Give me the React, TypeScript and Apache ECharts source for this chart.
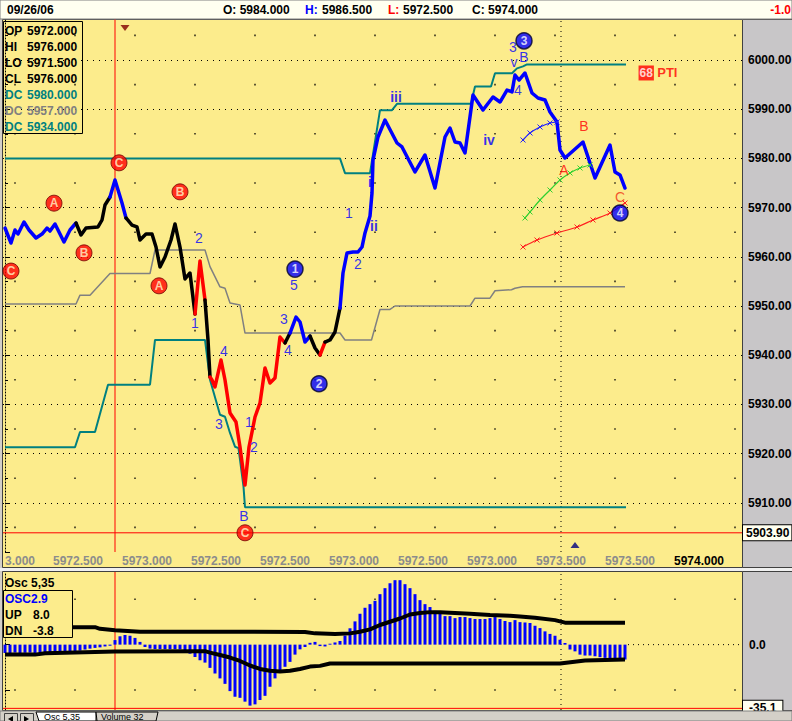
import React, { useEffect, useRef } from 'react';
import * as echarts from 'echarts';

const FONT = 'Arial, "Liberation Sans", sans-serif';
const YELLOW = '#FCEC8C';
const PANEL_GREY = '#C8C6C8';
const BLUE = '#0000FF';
const RED = '#FF0000';
const TEAL = '#008080';

// x positions are bar numbers (0 = first bar on the chart)
const xMin = -0.4;
const xMax = 147.4;
const xTickPositions = [3, 14.6, 28.4, 42.2, 56, 69.8, 83.6, 97.4, 111.2, 125, 138.8];
const xTickLabels = ['3.000', '5972.500', '5973.000', '5972.500', '5972.500', '5973.000', '5972.500', '5973.000', '5973.500', '5973.500', '5974.000'];

const pricePoints: [number, number][] = [
  [0, 5965.85], [1.2, 5962.8], [2, 5965.45], [2.6, 5964.63], [3.8, 5967.07], [4.8, 5965.45], [6.2, 5963.82],
  [7.4, 5964.63], [8.4, 5965.85], [9, 5965.24], [10, 5966.67], [10.8, 5965.04], [11.8, 5963.0], [13, 5965.45],
  [14.2, 5966.87], [15.2, 5964.43], [16.2, 5965.85], [18.6, 5966.06], [19.4, 5967.48], [20, 5970.53], [21, 5972.15],
  [22, 5975.61], [23.4, 5970.93], [24.2, 5967.89], [25.4, 5966.46], [26.4, 5966.06], [27, 5963.41], [28.2, 5964.63],
  [29.4, 5964.63], [30.2, 5961.99], [31, 5957.93], [32, 5959.96], [33.2, 5963.41], [34, 5966.67], [35, 5961.99],
  [36, 5955.49], [37, 5956.71], [38, 5948.37], [39, 5959.15], [40, 5951.22], [40.6, 5943.09], [41, 5935.57],
  [41.4, 5934.96], [42, 5933.54], [43.2, 5939.02], [44, 5934.96], [45, 5928.25], [46.2, 5926.42], [47, 5921.34],
  [48, 5913.62], [48.8, 5921.34], [50, 5927.44], [51, 5930.28], [52, 5937.4], [53, 5934.35], [54, 5935.37],
  [55, 5943.7], [56, 5942.48], [57, 5944.51], [58.2, 5947.76], [59, 5946.75], [60, 5942.68], [61, 5943.9],
  [62, 5941.46], [63, 5940.04], [64, 5942.68], [65, 5943.09], [66, 5944.72], [67, 5949.59], [67.6, 5956.71],
  [68.4, 5960.77], [69.6, 5960.98], [70.6, 5960.98], [71.4, 5961.99], [72, 5964.84], [73, 5968.29], [73.4, 5972.97],
  [73.6, 5979.67], [74.6, 5984.35], [76, 5987.8], [78.4, 5983.13], [79.4, 5982.32], [82, 5977.24], [84, 5980.69],
  [86, 5973.98], [88, 5984.35], [89, 5986.18], [90, 5983.33], [91, 5983.13], [92, 5981.1], [93.6, 5992.89],
  [95.6, 5989.84], [97.6, 5992.48], [99, 5991.46], [100.4, 5993.9], [101.4, 5993.5], [102, 5996.95], [102.8, 5995.93],
  [104, 5997.36], [105.4, 5993.29], [106.6, 5992.28], [108, 5991.87], [109, 5989.43], [110.4, 5987.4], [111, 5981.71],
  [112, 5980.08], [115.6, 5983.33], [118, 5976.02], [121, 5982.72], [122, 5977.24], [123, 5976.63], [124, 5973.98],
];

// [fromBar, toBar, colour] of the price line
const priceSegments: [number, number, string][] = [
  [0, 14.2, 'blue'], [14.2, 21, 'black'], [21, 24.2, 'blue'], [24.2, 38, 'black'], [38, 40, 'red'],
  [40, 41, 'black'], [41, 56, 'red'], [56, 57, 'black'], [57, 61, 'blue'], [61, 63, 'black'],
  [63, 64, 'red'], [64, 67, 'black'], [67, 124, 'blue'],
];

const dcUpper: [number, number][] = [
  [0, 5980], [67, 5980], [68, 5977], [73, 5977], [75, 5989.8], [77.4, 5989.8], [78.4, 5991.1], [93.2, 5991.1],
  [94, 5994.6], [97.2, 5994.6], [98, 5997.3], [101.4, 5997.3], [102.4, 5998.3], [103.6, 5998.7], [104.4, 5999.1], [124.2, 5999.1],
];
const dcMiddle: [number, number][] = [
  [0, 5950.4], [14.2, 5950.4], [15, 5952.2], [17, 5952.2], [21, 5956.6], [29, 5956.6], [30, 5961.4], [40, 5961.4],
  [41, 5958], [43, 5953.9], [44, 5953.6], [45, 5950.6], [47, 5950.2], [48, 5944.5], [67, 5944.5], [68, 5943.1],
  [73.3, 5943.1], [75, 5949.3], [77, 5949.3], [78, 5950], [93, 5950], [94, 5951.6], [97, 5951.6], [98, 5953.1],
  [101.3, 5953.3], [102, 5953.6], [103.5, 5953.9], [124, 5953.9],
];
const dcLower: [number, number][] = [
  [0, 5921.3], [14, 5921.3], [15, 5924.4], [18, 5924.4], [20.6, 5934], [29, 5934], [30, 5943.1], [40, 5943.1],
  [41, 5935], [43, 5927.9], [44, 5927.5], [45, 5924.2], [46, 5921.4], [46.7, 5921.1], [47.7, 5913.3], [48, 5909.1], [124.2, 5909.1],
];

const arcBlue: [number, number][] = [[103.6, 5983.74], [105, 5985.16], [107, 5986.38], [109, 5987.2], [110.4, 5987.4]];
const arcGreen: [number, number][] = [
  [104, 5967.89], [105, 5969.11], [107, 5971.54], [109, 5973.58], [111, 5975.61], [113, 5977.03], [115, 5978.05], [117, 5978.66],
];
const arcRed: [number, number][] = [
  [103.6, 5961.99], [106.4, 5963.41], [110.4, 5964.84], [114.4, 5966.06], [117.6, 5967.48], [121, 5968.9], [124, 5970.93],
];

const oscValues: number[] = [
  -4.6, -4.6, -4.4, -4.6, -4.5, -4.4, -4.6, -4.5, -4.4, -4.5, -4.3, -4.4, -4.2,
  -4.0, -3.7, -3.3, -2.7, -2.2, -1.8, -1.5, -1.0, -0.6,
  2.5, 4.6, 5.3, 4.9, 3.7, 1.5, -1.3, -2.2, -2.4, -2.4, -2.5,
  -2.5, -2.5, -2.6, -4, -5, -6.8, -8.6, -9.9, -12.8, -15.9, -18.6, -21.6, -25.6, -28.7, -29.3, -31.4, -33.6, -32.9,
  -30.5, -28.2, -23.2, -18.6, -15, -12.2, -9.5, -5.5, -2.6, -1.3, 1, 1.5, -0.8, -1, 0.5, 1.2, 2, 5, 9,
  12.8, 17, 20.3, 22.3, 24.1, 27.8, 31.1, 33.8, 35.5, 35.5, 33.3, 31.1, 27.8, 24.5, 22.3, 20.7, 18.6, 17.6, 15.7, 15.7,
  14.6, 15.2, 15.2, 14.6, 14.1, 14.1, 14.1, 14.6, 15.2, 14.1, 13, 12.4,
  13.5, 12.4, 12.2, 11.9, 10.4, 9.1, 7.3, 5.9, 4.9, 2.7, 0.9, -2.7, -3.7, -5.5, -6, -6, -6.4, -6.9, -7.3, -7.9, -7.9, -8.2, -8.2,
];
const oscUpper: [number, number][] = [
  [0, 9.6], [18, 9.6], [19, 8.7], [22, 7.9], [27, 7.1], [60, 7.0], [62, 6.2], [66, 5.9], [69, 6.2], [71, 7.1],
  [73, 8.4], [75, 10.8], [77, 12.6], [79, 14.4], [81, 16.6], [83, 17.4], [85, 17.9], [87, 17.9], [89, 17.6],
  [93, 17], [97, 16.3], [101, 15.9], [103, 15.5], [106, 14.8], [110, 13.5], [112, 12.1], [124, 12.1],
];
const oscLower: [number, number][] = [
  [0, -5.5], [6, -5.5], [8, -4.8], [16, -4.2], [22, -3.8], [40, -3.6], [41, -4.4], [43, -5.7], [45, -7.1],
  [47, -9], [49, -11.5], [51, -13.4], [53, -14.4], [55, -14.8], [57, -14.4], [59, -13.4], [61, -12.1],
  [63, -11.7], [65, -10.4], [111, -10.4], [116, -8.8], [124, -8.2],
];

const redCircles: [number, number, string][] = [
  [1.2, 5957.1, 'C'], [9.8, 5970.9, 'A'], [15.8, 5960.8, 'B'], [22.8, 5979.1, 'C'], [35, 5973.2, 'B'],
  [30.8, 5954.1, 'A'], [48, 5903.9, 'C'],
];
const blueCircles: [number, number, string][] = [
  [58, 5957.5, '1'], [62.8, 5934.2, '2'], [103.8, 6003.9, '3'], [123, 5968.9, '4'],
];
const blueTexts: [number, number, string][] = [
  [38.8, 5963.8, '2'], [38, 5946.5, '1'], [43.8, 5940.9, '4'], [42.8, 5926.0, '3'], [48.8, 5926.4, '1'],
  [49.8, 5921.3, '2'], [47.8, 5907.3, 'B'], [57.8, 5954.3, '5'], [55.8, 5947.4, '3'], [56.6, 5941.1, '4'],
  [70.6, 5958.5, '2'], [68.8, 5968.9, '1'], [101.6, 6002.7, '3'], [101.8, 5999.65, 'v'], [103.8, 6000.55, 'B'],
  [102.6, 5993.9, '4'],
];
const blueRomans: [number, number, string][] = [
  [73.8, 5966.3, 'ii'], [73, 5975.2, 'i'], [78.2, 5992.5, 'iii'], [96.8, 5983.7, 'iv'],
];
const redTexts: [number, number, string][] = [[111.8, 5977.6, 'A'], [115.8, 5986.6, 'B']];
const orangeTexts: [number, number, string][] = [[123, 5972.2, 'C']];
const ptiLabel: [number, number, string, string] = [130.6, 5997.36, '68', 'PTI'];
const downMarker: [number, number] = [24, 6006.5];
const upMarker: [number, number] = [114, 5901.4];

const dotColumns = [2, 14, 26, 38, 50, 62, 74, 86, 98, 110, 122, 134, 146];
const dotRowsMain = [6005, 5995, 5985, 5975, 5965, 5955, 5945, 5935, 5925, 5915, 5905];
const dotRowsOsc = [25, -25];

const mainYMin = 5900;
const mainYMax = 6010;
const oscYMin = -36;
const oscYMax = 40;
const cursorBar = 22;
const nowBar = 111.2;
const lastPriceLine = 5903.9;
const oscLowLine = -35.1;
const oscZeroFrom = 124.6;

const headerDate = '09/26/06';
const headerOpen = '5984.000';
const headerHigh = '5986.500';
const headerLow = '5972.500';
const headerClose = '5974.000';
const headerChange = '-1.0';

const legendRows: [string, string, string][] = [
  ['OP', '5972.000', '#000000'], ['HI', '5976.000', '#000000'], ['LO', '5971.500', '#000000'],
  ['CL', '5976.000', '#000000'], ['DC', '5980.000', TEAL], ['DC', '5957.000', '#808080'], ['DC', '5934.000', TEAL],
];
const oscTitle = 'Osc 5,35';
const oscRows: [string, string, string][] = [['OSC2.9', '', BLUE], ['UP', '8.0', '#000000'], ['DN', '-3.8', '#000000']];
const tabLabels = ['Osc 5,35', 'Volume 32'];

const colourOf: Record<string, string> = { blue: BLUE, black: '#000000', red: RED };

function txt(x: number, y: number, text: string, fill: string, font: string, align = 'left', z = 101) {
  return {
    type: 'text', x, y, z, silent: true,
    style: { text, fill, font, align, textAlign: align, verticalAlign: 'middle', textVerticalAlign: 'middle' },
  };
}

function buildOption(): any {
  const mainDots: [number, number][] = [];
  dotColumns.forEach((c) => dotRowsMain.forEach((r) => mainDots.push([c, r])));
  const oscDots: [number, number][] = [];
  dotColumns.forEach((c) => dotRowsOsc.forEach((r) => oscDots.push([c, r])));

  const boldFont = `bold 12px ${FONT}`;

  const graphic: any[] = [
    { type: 'rect', z: -200, silent: true, shape: { x: 0, y: 0, width: 792, height: 721 }, style: { fill: '#D4D0C8' } },
    { type: 'rect', z: -100, silent: true, shape: { x: 2.5, y: 19.5, width: 740, height: 548 }, style: { fill: YELLOW, stroke: '#404040', lineWidth: 1 } },
    { type: 'rect', z: -99, silent: true, shape: { x: 742.5, y: 19.5, width: 50, height: 548 }, style: { fill: PANEL_GREY, stroke: '#404040', lineWidth: 1 } },
    { type: 'rect', z: -100, silent: true, shape: { x: 2.5, y: 571.5, width: 740, height: 139 }, style: { fill: YELLOW, stroke: '#404040', lineWidth: 1 } },
    { type: 'rect', z: -99, silent: true, shape: { x: 742.5, y: 571.5, width: 50, height: 139 }, style: { fill: PANEL_GREY, stroke: '#404040', lineWidth: 1 } },
    { type: 'rect', z: -98, silent: true, shape: { x: 0, y: 568, width: 792, height: 3 }, style: { fill: '#F0F0F0' } },
    // header
    { type: 'rect', z: 100, silent: true, shape: { x: 0, y: 0, width: 792, height: 19 }, style: { fill: '#FFFFF0', stroke: '#808080', lineWidth: 1 } },
    txt(7, 10, headerDate, '#000', boldFont, 'left'),
    txt(223, 10, 'O: ' + headerOpen, '#000', boldFont),
    txt(305, 10, 'H:', BLUE, boldFont),
    txt(322, 10, headerHigh, '#000', boldFont),
    txt(388, 10, 'L:', RED, boldFont),
    txt(403, 10, headerLow, '#000', boldFont),
    txt(472, 10, 'C: ' + headerClose, '#000', boldFont),
    txt(791, 10, headerChange, RED, boldFont, 'right'),
    // main legend box
    { type: 'rect', z: 100, silent: true, shape: { x: 3.5, y: 21.5, width: 79, height: 112 }, style: { fill: 'transparent', stroke: '#000', lineWidth: 1 } },
    // oscillator box
    txt(5, 583, oscTitle, '#000', boldFont),
    { type: 'rect', z: 100, silent: true, shape: { x: 3.5, y: 590.5, width: 69, height: 47 }, style: { fill: YELLOW, stroke: '#000', lineWidth: 1 } },
    // bottom tab bar
    { type: 'rect', z: 100, silent: true, shape: { x: 0, y: 711, width: 792, height: 10 }, style: { fill: '#D4D0C8', stroke: '#808080', lineWidth: 1 } },
    { type: 'rect', z: 101, silent: true, shape: { x: 4.5, y: 713.5, width: 13, height: 10 }, style: { fill: '#D4D0C8', stroke: '#404040', lineWidth: 1 } },
    { type: 'rect', z: 101, silent: true, shape: { x: 20.5, y: 713.5, width: 13, height: 10 }, style: { fill: '#D4D0C8', stroke: '#404040', lineWidth: 1 } },
    { type: 'polygon', z: 102, silent: true, shape: { points: [[8, 719], [13, 716], [13, 722]] }, style: { fill: '#000' } },
    { type: 'polygon', z: 102, silent: true, shape: { points: [[29, 719], [24, 716], [24, 722]] }, style: { fill: '#000' } },
    { type: 'polygon', z: 101, silent: true, shape: { points: [[36, 712], [96, 712], [96, 721], [39, 721]] }, style: { fill: '#FFFFFF', stroke: '#000', lineWidth: 1 } },
    { type: 'polygon', z: 101, silent: true, shape: { points: [[96, 712], [158, 712], [156, 721], [97, 721]] }, style: { fill: '#D4D0C8', stroke: '#000', lineWidth: 1 } },
    txt(44, 716.5, tabLabels[0], '#000', `9px ${FONT}`),
    txt(101, 716.5, tabLabels[1], '#000', `9px ${FONT}`),
  ];
  legendRows.forEach(([k, v, c], idx) => {
    const y = 31 + idx * 16;
    graphic.push(txt(5, y, k, c, boldFont));
    graphic.push(txt(27, y, v, c, boldFont));
  });
  oscRows.forEach(([k, v, c], idx) => {
    const y = 599 + idx * 16;
    graphic.push(txt(5, y, k, c, boldFont));
    if (v) graphic.push(txt(33, y, v, c, boldFont));
  });

  const labelFont = { fontFamily: FONT };
  const boxLabel = (text: string, pad: number[]) => ({
    show: true, formatter: text, distance: 1,
    backgroundColor: '#FFFFF0', borderColor: '#000', borderWidth: 1, padding: pad,
    color: '#000', fontWeight: 'bold', fontSize: 12, ...labelFont,
  });
  const plainLine = (xi: number, yi: number, data: [number, number][], color: string, type: any, z = 1, extra: any = {}) => ({
    type: 'line', xAxisIndex: xi, yAxisIndex: yi, silent: true, z, symbol: 'none', data,
    lineStyle: { color, width: 1, type }, ...extra,
  });

  const series: any[] = [
    {
      type: 'scatter', xAxisIndex: 0, yAxisIndex: 0, silent: true, z: 1, symbol: 'rect', symbolSize: 1.6,
      itemStyle: { color: '#000' }, data: mainDots,
    },
    plainLine(0, 0, [[xMin, lastPriceLine], [xMax, lastPriceLine]], RED, 'solid', 1, {
      endLabel: boxLabel(lastPriceLine.toFixed(2), [2, 2, 1, 3]),
    }),
    plainLine(0, 0, [[cursorBar, mainYMin], [cursorBar, mainYMax]], RED, 'solid'),
    plainLine(0, 0, [[nowBar, mainYMin], [nowBar, mainYMax]], '#000', [1, 4]),
    { type: 'line', xAxisIndex: 0, yAxisIndex: 0, data: dcMiddle, symbol: 'none', lineStyle: { color: '#808080', width: 1.5 }, z: 2 },
    { type: 'line', xAxisIndex: 0, yAxisIndex: 0, data: dcUpper, symbol: 'none', lineStyle: { color: TEAL, width: 2 }, z: 2 },
    { type: 'line', xAxisIndex: 0, yAxisIndex: 0, data: dcLower, symbol: 'none', lineStyle: { color: TEAL, width: 2 }, z: 2 },
  ];

  priceSegments.forEach(([a, b, c]) => {
    series.push({
      type: 'line', xAxisIndex: 0, yAxisIndex: 0, z: 3, symbol: 'none',
      data: pricePoints.filter((p) => p[0] >= a && p[0] <= b),
      lineStyle: { color: colourOf[c], width: 3.5, join: 'round', cap: 'round' },
    });
  });

  const crossSymbol = 'path://M0,0L10,10M10,0L0,10';
  [[arcBlue, '#2020FF'], [arcGreen, '#30D030'], [arcRed, '#FF2020']].forEach(([d, c]: any) => {
    series.push({
      type: 'line', xAxisIndex: 0, yAxisIndex: 0, z: 3, data: d, smooth: 0.3,
      symbol: crossSymbol, symbolSize: 5, showSymbol: true,
      itemStyle: { color: 'transparent', borderColor: c, borderWidth: 1 },
      lineStyle: { color: c, width: 1.2 },
    });
  });

  const textSeries = (data: [number, number, string][], color: string, size: number, weight: string) => ({
    type: 'scatter', xAxisIndex: 0, yAxisIndex: 0, z: 5, silent: true, symbol: 'circle', symbolSize: 1,
    itemStyle: { color: 'transparent' },
    data: data.map(([x, y, t]) => ({ value: [x, y], name: t })),
    label: { show: true, position: 'inside', formatter: '{b}', color, fontSize: size, fontWeight: weight, ...labelFont },
  });
  series.push(textSeries(blueTexts, BLUE, 14, 'normal'));
  series.push(textSeries(blueRomans, BLUE, 14, 'bold'));
  series.push(textSeries(redTexts, RED, 14, 'normal'));
  series.push(textSeries(orangeTexts, '#F03010', 14, 'normal'));

  series.push({
    type: 'scatter', xAxisIndex: 0, yAxisIndex: 0, z: 6, silent: true, symbol: 'circle', symbolSize: 16,
    itemStyle: { color: RED, borderColor: '#700000', borderWidth: 1 },
    data: redCircles.map(([x, y, t]) => ({ value: [x, y], name: t })),
    label: { show: true, position: 'inside', formatter: '{b}', color: '#FFF6C8', fontSize: 12, fontWeight: 'bold', ...labelFont },
  });
  series.push({
    type: 'scatter', xAxisIndex: 0, yAxisIndex: 0, z: 6, silent: true, symbol: 'circle', symbolSize: 16,
    itemStyle: { color: BLUE, borderColor: '#000030', borderWidth: 1.5 },
    data: blueCircles.map(([x, y, t]) => ({ value: [x, y], name: t })),
    label: { show: true, position: 'inside', formatter: '{b}', color: '#FFFFFF', fontSize: 12, fontWeight: 'bold', ...labelFont },
  });
  series.push({
    type: 'scatter', xAxisIndex: 0, yAxisIndex: 0, z: 6, silent: true, symbol: 'circle', symbolSize: 1,
    itemStyle: { color: 'transparent' },
    data: [{ value: [ptiLabel[0], ptiLabel[1]], name: ptiLabel[2] }],
    label: {
      show: true, position: 'inside', formatter: `{box|${ptiLabel[2]}} {pti|${ptiLabel[3]}}`,
      rich: {
        box: { backgroundColor: RED, color: '#FFFFFF', fontWeight: 'bold', fontSize: 12, padding: [2, 1, 1, 1], ...labelFont },
        pti: { color: RED, fontWeight: 'bold', fontSize: 13, ...labelFont },
      },
    },
  });
  series.push({
    type: 'scatter', xAxisIndex: 0, yAxisIndex: 0, z: 6, silent: true, symbol: 'triangle', symbolSize: [9, 6],
    symbolRotate: 180, itemStyle: { color: '#800000' }, data: [downMarker],
  });
  series.push({
    type: 'scatter', xAxisIndex: 0, yAxisIndex: 0, z: 6, silent: true, symbol: 'triangle', symbolSize: [9, 6],
    itemStyle: { color: '#000080' }, data: [upMarker],
  });

  // oscillator
  series.push({
    type: 'scatter', xAxisIndex: 1, yAxisIndex: 1, silent: true, z: 1, symbol: 'rect', symbolSize: 1.6,
    itemStyle: { color: '#000' }, data: oscDots,
  });
  series.push(plainLine(1, 1, [[xMin, oscLowLine], [xMax, oscLowLine]], RED, 'solid', 1, {
    endLabel: boxLabel(oscLowLine.toFixed(1), [2, 6, 1, 6]),
  }));
  series.push(plainLine(1, 1, [[cursorBar, oscYMin], [cursorBar, oscYMax]], RED, 'solid'));
  series.push(plainLine(1, 1, [[nowBar, oscYMin], [nowBar, oscYMax]], '#000', [1, 4]));
  series.push(plainLine(1, 1, [[oscZeroFrom, 0], [xMax, 0]], '#000', [1, 4]));
  series.push({
    type: 'bar', xAxisIndex: 1, yAxisIndex: 1, z: 2, barWidth: 3,
    itemStyle: { color: BLUE }, data: oscValues.map((v, i) => [i, v]),
  });
  series.push({ type: 'line', xAxisIndex: 1, yAxisIndex: 1, z: 3, symbol: 'none', data: oscUpper, lineStyle: { color: '#000', width: 4 } });
  series.push({ type: 'line', xAxisIndex: 1, yAxisIndex: 1, z: 3, symbol: 'none', data: oscLower, lineStyle: { color: '#000', width: 4 } });

  return {
    animation: false,
    backgroundColor: '#D4D0C8',
    textStyle: { fontFamily: FONT },
    grid: [
      { left: 3, width: 739, top: 10.8, height: 541.2, containLabel: false, outerBoundsMode: 'none' },
      { left: 3, width: 739, top: 572, height: 138, containLabel: false, outerBoundsMode: 'none' },
    ],
    xAxis: [
      {
        gridIndex: 0, type: 'value', min: xMin, max: xMax,
        axisLine: { show: false }, axisTick: { show: false }, splitLine: { show: false },
        axisLabel: {
          customValues: xTickPositions, margin: 3,
          formatter: (v: number) => {
            const k = xTickPositions.findIndex((p) => Math.abs(p - v) < 0.01);
            if (k < 0) return '';
            return k === xTickPositions.length - 1 ? `{last|${xTickLabels[k]}}` : `{g|${xTickLabels[k]}}`;
          },
          rich: {
            g: { color: '#8C8C8C', fontWeight: 'bold', fontSize: 12, fontFamily: FONT },
            last: { color: '#000', fontWeight: 'bold', fontSize: 12, fontFamily: FONT },
          },
        },
      },
      {
        gridIndex: 1, type: 'value', min: xMin, max: xMax, show: false,
        axisLine: { show: false }, axisTick: { show: false }, splitLine: { show: false }, axisLabel: { show: false },
      },
    ],
    yAxis: [
      {
        gridIndex: 0, type: 'value', position: 'right', min: mainYMin, max: mainYMax, interval: 10,
        axisLine: { show: true, lineStyle: { color: '#000', type: [1, 2], width: 1 } },
        axisTick: { show: true, length: 5, lineStyle: { color: '#000' } },
        minorTick: { show: true, splitNumber: 2, length: 3, lineStyle: { color: '#000' } },
        axisLabel: {
          color: '#000', fontWeight: 'bold', fontSize: 12, fontFamily: FONT, margin: 6,
          formatter: (v: number) => (v <= mainYMin || v >= mainYMax ? '' : v.toFixed(2)),
        },
        splitLine: { show: true, showMinLine: false, showMaxLine: false, lineStyle: { color: '#000', type: [1, 5], width: 1 } },
      },
      {
        gridIndex: 1, type: 'value', position: 'right', min: oscYMin, max: oscYMax,
        axisLine: { show: true, lineStyle: { color: '#000', type: [1, 2], width: 1 } },
        axisTick: { show: true, length: 5, customValues: [25, 0, -25], lineStyle: { color: '#000' } },
        axisLabel: {
          customValues: [0], color: '#000', fontWeight: 'bold', fontSize: 12, fontFamily: FONT, margin: 7,
          formatter: (v: number) => Math.abs(v).toFixed(1),
        },
        splitLine: { show: false },
      },
    ],
    graphic,
    series,
  };
}

export default function App() {
  const ref = useRef<HTMLDivElement>(null);
  useEffect(() => {
    document.body.style.margin = '0';
    if (!ref.current) return;
    const chart = echarts.init(ref.current, undefined, { renderer: 'svg' });
    chart.setOption(buildOption());
    return () => chart.dispose();
  }, []);
  return <div ref={ref} style={{ width: 792, height: 721, display: 'block' }} />;
}
